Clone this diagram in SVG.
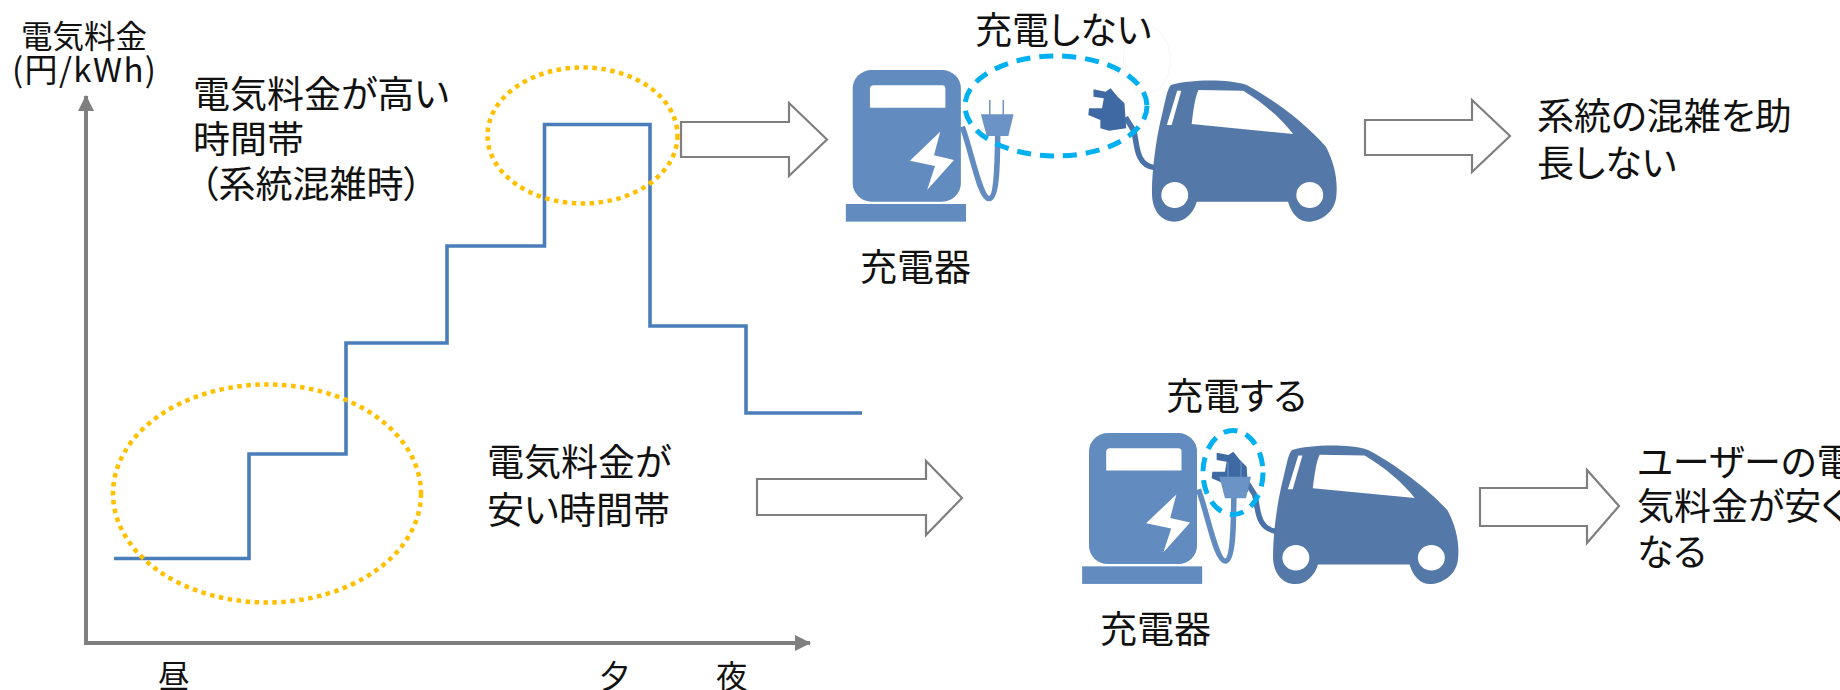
<svg xmlns="http://www.w3.org/2000/svg" width="1840" height="690" viewBox="0 0 1840 690">
<style>
text{font-family:"Noto Sans CJK JP","Noto Sans",sans-serif;fill:#111;font-size:37px;font-feature-settings:"palt"}
.s31{font-size:31.5px}
.blk{fill:#fff;stroke:#7f7f7f;stroke-width:2.2}
.dot{fill:none;stroke:#ffc000;stroke-width:4.5;stroke-dasharray:4.5 4.5}
.dash{fill:none;stroke:#00b0f0;stroke-width:5;stroke-dasharray:14 9}
.axis{fill:none;stroke:#7f7f7f;stroke-width:4}
</style>
<defs>
<marker id="ah" markerUnits="userSpaceOnUse" markerWidth="16" markerHeight="16" refX="15" refY="8" orient="auto"><path d="M0 0L16 8L0 16Z" fill="#7f7f7f"/></marker>
<g id="charger">
<rect x="66" y="210" width="314" height="395" rx="55" fill="#628bc0"/>
<path d="M127 256H325Q335 256 335 266V323H116V267Q116 256 127 256Z" fill="#fff"/>
<path d="M320 395L232 482L305 498L282 570L360 480L302 466Z" fill="#fff"/>
<rect x="46" y="612" width="349" height="53" fill="#628bc0"/>
<path d="M384 380C410 450 435 596 462 596C484 596 486 500 487 405" fill="none" stroke="#628bc0" stroke-width="16"/>
</g>
<g id="plug">
<path d="M464 300V345M503 300V345" stroke="#628bc0" stroke-width="4" fill="none"/>
<path d="M438 343H533L518 408H455Z" fill="#6b93c5"/>
</g>
<g id="car">
<path d="M990 255C1040 240 1150 235 1210 255C1290 300 1380 370 1440 440C1465 490 1475 540 1470 590C1465 640 1420 665 1390 665C1360 665 1340 640 1330 605H1065C1055 640 1030 665 1000 665C960 665 935 630 935 580C935 500 950 400 965 340C975 295 980 265 990 255Z" fill="#5478a8"/>
<path d="M1070 270L1200 272C1260 310 1310 355 1345 402L1050 372C1055 330 1060 290 1070 270Z" fill="#fff"/>
<path d="M1008 272L1020 272L992 375L978 375Z" fill="#fff"/>
<circle cx="1001" cy="585" r="39" fill="#fff"/>
<circle cx="1393" cy="585" r="39" fill="#fff"/>
<path d="M942 503C885 495 892 425 882 392L858 352" fill="none" stroke="#4a72a8" stroke-width="16"/>
</g>
<path id="carplug" d="M765 268L800 275L815 265L835 290L855 310L860 385L810 392L785 385L785 360L750 345L752 325L790 325L795 295L765 290Z" fill="#3f69a3"/>
</defs>

<g id="connectors">
<path class="axis" d="M86 645V96" marker-end="url(#ah)"/>
<path class="axis" d="M86 643H810" marker-end="url(#ah)"/>
<path d="M114 558.500H249V454H346V343H447V246H544.500V124.500H650V326H746V413H862" fill="none" stroke="#4a7ebb" stroke-width="3.600"/>
<path class="blk" d="M681 122H789V103L827 139.500L789 176V157H681Z"/>
<path class="blk" d="M1365 120H1472V100L1510 136L1472 172V155H1365Z"/>
<path class="blk" d="M757 479H926V461L962 498L926 535V515H757Z"/>
<path class="blk" d="M1480 488H1587V470L1619 506L1587 543V526H1480Z"/>
</g>

<g id="price-high"><ellipse class="dot" cx="582.500" cy="135.500" rx="95" ry="68"/></g>
<g id="price-low"><ellipse class="dot" cx="267" cy="493.500" rx="154" ry="109"/></g>

<g id="charger-top" transform="translate(830 0) scale(.3444 .3333)">
<ellipse cx="920" cy="180" rx="68" ry="100" fill="none" stroke="#f6f6f6" stroke-width="3"/>
<use href="#charger"/><use href="#car"/><use href="#carplug"/><use href="#plug"/>
</g>
<g id="charge-off-mark"><ellipse class="dash" cx="1056" cy="106" rx="91" ry="50"/></g>

<g id="charger-bottom">
<g transform="translate(1066.300 363.400) scale(.344 .3316)"><use href="#charger"/></g>
<g transform="translate(949.800 366.500) scale(.3457 .3271)"><use href="#car"/></g>
<g transform="translate(1060 380) scale(.3333) translate(-295 -50)"><use href="#carplug"/></g>
<g transform="translate(1060 380) scale(.3333) translate(40 -53)"><use href="#plug"/></g>
</g>
<g id="charge-on-mark"><ellipse class="dash" cx="1233" cy="472.500" rx="30" ry="42"/></g>

<g id="labels">
<text class="s31" x="84" y="48" text-anchor="middle">電気料金</text>
<text x="84" y="82" text-anchor="middle" style="font-size:33px" textLength="144">(円/kWh)</text>
<text x="193" y="108">電気料金が高い</text>
<text x="193" y="153">時間帯</text>
<text x="200" y="198">（系統混雑時）</text>
<text x="487" y="476">電気料金が</text>
<text x="487" y="524">安い時間帯</text>
<text x="975" y="44">充電しない</text>
<text x="860" y="281">充電器</text>
<text x="1537" y="130">系統の混雑を助</text>
<text x="1537" y="177">長しない</text>
<text x="1166" y="410">充電する</text>
<text x="1100" y="643">充電器</text>
<text x="1637" y="476">ユーザーの電</text>
<text x="1637" y="520">気料金が安く</text>
<text x="1637" y="566">なる</text>
<text class="s31" x="158" y="688">昼</text>
<text class="s31" x="599" y="688">夕</text>
<text class="s31" x="716" y="688">夜</text>
</g>
</svg>
